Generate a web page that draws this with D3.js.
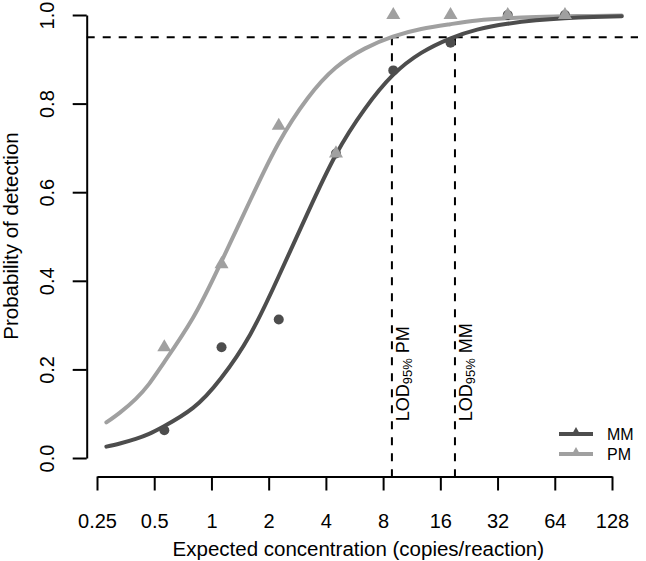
<!DOCTYPE html>
<html>
<head>
<meta charset="utf-8">
<script src="https://cdn.jsdelivr.net/npm/d3@7"></script>
<style>
  html, body { margin: 0; padding: 0; background: #fff; }
  svg { display: block; font-family: "Liberation Sans", Arial, Helvetica, sans-serif; }
</style>
</head>
<body>
<svg id="chart" width="646" height="561"></svg>
<script>
// ---- data ----
const concentrations = [0.565, 1.13, 2.26, 4.52, 9.05, 18.1, 36.2, 72.4];
const mmDetect = [0.0625, 0.25, 0.3125, 0.6875, 0.875, 0.9375, 1, 1];
const pmDetect = [0.25, 0.4375, 0.75, 0.6875, 1, 1, 1, 1];

// fitted curves
const curveX  = [0.28, 0.33, 0.4, 0.47, 0.56, 0.8, 1.12, 1.6, 2.25, 3.2, 4.5, 6.4, 9, 12.7, 18, 25, 36, 51, 72, 102, 144];
const mmCurve = [0.0256, 0.0328, 0.0431, 0.0545, 0.0711, 0.1130, 0.1794, 0.2789, 0.4085, 0.5523, 0.6835, 0.7875, 0.8641, 0.9145, 0.9468, 0.9671, 0.9802, 0.9879, 0.9926, 0.9955, 0.9973];
const pmCurve = [0.0802, 0.1025, 0.1335, 0.1674, 0.2142, 0.3165, 0.4403, 0.5818, 0.7099, 0.8115, 0.8808, 0.9241, 0.9512, 0.9683, 0.9792, 0.9876, 0.9926, 0.9953, 0.9970, 0.9980, 0.9986];

const lodLevel = 0.95;
const lodValues = [8.9, 19.1];
const lodNames = ["PM", "MM"];

const seriesNames = ["MM", "PM"];
const xTicks = [0.25, 0.5, 1, 2, 4, 8, 16, 32, 64, 128];
const yTicks = [0, 0.2, 0.4, 0.6, 0.8, 1.0];

// ---- styles ----
const darkCol = "#4d4d4d";
const lightCol = "#a0a0a0";
const fontFam = "Liberation Sans, Arial, sans-serif";

const svg = d3.select("#chart");

const x = d3.scaleLog().base(2).domain([0.25, 128]).range([97, 612]);
const y = d3.scaleLinear().domain([0, 1]).range([458, 15]);

const plotLeft = 86.7, plotRight = 638, plotBottom = 476.5;

// horizontal dashed line at 95%
svg.append("line")
  .attr("x1", plotLeft).attr("x2", plotRight)
  .attr("y1", y(lodLevel)).attr("y2", y(lodLevel))
  .attr("stroke", "#000").attr("stroke-width", 2).attr("stroke-dasharray", "8,8");

// vertical LOD lines
svg.selectAll("line.lod").data(lodValues).enter().append("line")
  .attr("class", "lod")
  .attr("x1", d => x(d)).attr("x2", d => x(d))
  .attr("y1", y(lodLevel)).attr("y2", plotBottom)
  .attr("stroke", "#000").attr("stroke-width", 2).attr("stroke-dasharray", "8,8");

// LOD labels
lodValues.forEach((v, i) => {
  const t = svg.append("text")
    .attr("transform", `translate(${x(v) + 17.5},${y(0.083)}) rotate(-90)`)
    .attr("font-size", 18).attr("fill", "#000").attr("text-anchor", "start");
  t.append("tspan").text("LOD");
  t.append("tspan").attr("font-size", 13).attr("dy", 3).text("95%");
  t.append("tspan").attr("dy", -3).text("\u00a0" + lodNames[i]);
});

// curves
const line = d3.line().x(d => x(d[0])).y(d => y(d[1])).curve(d3.curveNatural);
svg.append("path").datum(curveX.map((c, i) => [c, pmCurve[i]]))
  .attr("d", line).attr("fill", "none").attr("stroke", lightCol)
  .attr("stroke-width", 4).attr("stroke-linecap", "round");
svg.append("path").datum(curveX.map((c, i) => [c, mmCurve[i]]))
  .attr("d", line).attr("fill", "none").attr("stroke", darkCol)
  .attr("stroke-width", 4).attr("stroke-linecap", "round");

// points: MM circles, PM triangles on top
svg.selectAll("circle.mm").data(concentrations).enter().append("circle")
  .attr("class", "mm")
  .attr("cx", d => x(d)).attr("cy", (d, i) => y(mmDetect[i]))
  .attr("r", 5).attr("fill", darkCol);

const tri = d3.symbol().type(d3.symbolTriangle).size(85);
svg.selectAll("path.pm").data(concentrations).enter().append("path")
  .attr("class", "pm")
  .attr("d", tri)
  .attr("transform", (d, i) => `translate(${x(d)},${y(pmDetect[i])})`)
  .attr("fill", lightCol);

// x axis
const xAxis = d3.axisBottom(x).tickValues(xTicks)
  .tickFormat(d => String(d)).tickSize(14).tickSizeOuter(0).tickPadding(23);
const gx = svg.append("g").attr("transform", `translate(0,${plotBottom})`).call(xAxis);
gx.select(".domain").attr("stroke", "#000").attr("stroke-width", 2);
gx.selectAll(".tick line").attr("stroke", "#000").attr("stroke-width", 2);
gx.selectAll(".tick text").attr("font-size", 20).attr("fill", "#000")
  .attr("font-family", fontFam);

// y axis
const yAxis = d3.axisLeft(y).tickValues(yTicks)
  .tickFormat(d3.format(".1f")).tickSize(14).tickSizeOuter(0);
const gy = svg.append("g").attr("transform", `translate(${plotLeft},0)`).call(yAxis);
gy.select(".domain").attr("stroke", "#000").attr("stroke-width", 2);
gy.selectAll(".tick line").attr("stroke", "#000").attr("stroke-width", 2);
gy.selectAll(".tick text")
  .attr("font-size", 20).attr("fill", "#000")
  .attr("font-family", fontFam)
  .attr("text-anchor", "middle")
  .attr("x", 0).attr("y", -(plotLeft - 54)).attr("dy", 0)
  .attr("transform", "rotate(-90)");

// axis titles
svg.append("text")
  .attr("x", (plotLeft + plotRight) / 2 - 4).attr("y", 556)
  .attr("text-anchor", "middle").attr("font-size", 20.5).attr("fill", "#000")
  .text("Expected concentration (copies/reaction)");
svg.append("text")
  .attr("transform", `translate(18,236) rotate(-90)`)
  .attr("text-anchor", "middle").attr("font-size", 20.5).attr("fill", "#000")
  .text("Probability of detection");

// legend
const legendCols = [darkCol, lightCol];
const legendTri = d3.symbol().type(d3.symbolTriangle).size(45);
seriesNames.forEach((name, i) => {
  const ly = 434 + i * 20;
  svg.append("line").attr("x1", 559).attr("x2", 593).attr("y1", ly).attr("y2", ly)
    .attr("stroke", legendCols[i]).attr("stroke-width", 4);
  svg.append("path").attr("d", legendTri)
    .attr("transform", `translate(576,${ly - 1})`).attr("fill", legendCols[i]);
  svg.append("text").attr("x", 607).attr("y", ly).attr("dy", "0.36em")
    .attr("font-size", 16).attr("fill", "#000").text(name);
});
</script>
</body>
</html>
